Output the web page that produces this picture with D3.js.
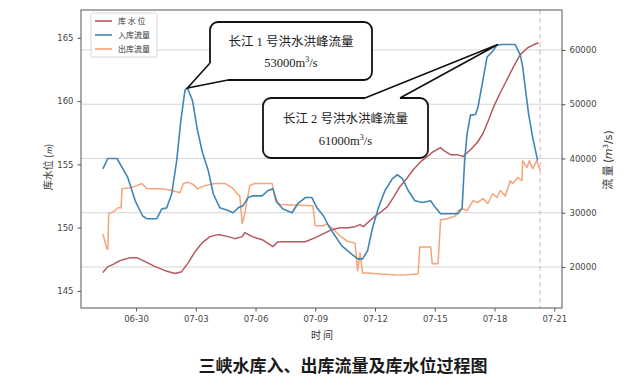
<!DOCTYPE html>
<html><head><meta charset="utf-8">
<script src="https://cdn.jsdelivr.net/npm/d3@7"></script>
<style>body{margin:0;background:#fff}</style>
</head><body><svg id="c" width="640" height="380"></svg>
<script>
const YEAR = "2020";
const seriesNames = ["库 水 位", "入库流量", "出库流量"];
const levelTimes = ["06-28 08:00","06-28 14:00","06-28 20:00","06-29 02:00","06-29 08:00","06-29 17:00","06-30 01:00","06-30 11:00","06-30 23:00","07-01 11:00","07-01 23:00","07-02 07:00","07-02 15:00","07-02 23:00","07-03 08:00","07-03 17:00","07-04 03:00","07-04 15:00","07-04 23:00","07-05 08:00","07-05 11:00","07-05 20:00","07-06 08:00","07-06 21:00","07-07 03:00","07-07 20:00","07-08 12:00","07-09 00:00","07-09 10:00","07-09 20:00","07-10 06:00","07-10 16:00","07-11 00:00","07-11 06:00","07-11 10:00","07-11 15:00","07-11 22:00","07-12 06:00","07-12 15:00","07-12 22:00","07-13 06:00","07-13 15:00","07-13 22:00","07-14 07:00","07-14 15:00","07-14 22:00","07-15 07:00","07-15 11:00","07-15 19:00","07-16 03:00","07-16 10:00","07-16 19:00","07-17 03:00","07-17 10:00","07-17 17:00","07-17 23:00","07-18 07:00","07-18 15:00","07-18 23:00","07-19 07:00","07-19 16:00","07-19 23:00","07-20 05:00"];
const levelValues = [146.45,146.92,147.08,147.31,147.47,147.63,147.63,147.31,146.92,146.60,146.37,146.52,147.24,148.10,148.82,149.29,149.45,149.29,149.13,149.29,149.61,149.29,149.05,148.50,148.89,148.89,148.89,149.21,149.53,149.84,150.00,150.00,150.08,150.24,150.08,150.39,150.79,151.18,151.66,152.37,153.24,153.95,154.58,155.21,155.61,156.00,156.32,156.08,155.77,155.77,155.61,156.16,156.71,157.42,158.53,159.56,160.66,161.69,162.72,163.67,164.22,164.45,164.61];
const inflowTimes = ["06-28 08:00","06-28 14:00","06-29 01:00","06-29 14:00","06-29 23:00","06-30 08:00","06-30 13:00","07-01 01:00","07-01 07:00","07-01 13:00","07-01 19:00","07-02 01:00","07-02 06:00","07-02 11:00","07-02 14:00","07-02 20:00","07-03 02:00","07-03 08:00","07-03 15:00","07-03 21:00","07-04 05:00","07-04 15:00","07-04 21:00","07-05 03:00","07-05 09:00","07-05 15:00","07-05 20:00","07-06 08:00","07-06 15:00","07-06 21:00","07-07 02:00","07-07 09:00","07-07 20:00","07-08 03:00","07-08 12:00","07-08 20:00","07-09 02:00","07-09 10:00","07-09 16:00","07-10 00:00","07-10 08:00","07-10 18:00","07-11 03:00","07-11 09:00","07-11 15:00","07-11 21:00","07-12 04:00","07-12 12:00","07-12 21:00","07-13 03:00","07-13 09:00","07-13 16:00","07-14 00:00","07-14 09:00","07-14 19:00","07-15 01:00","07-15 07:00","07-16 04:00","07-16 09:00","07-16 12:00","07-16 15:00","07-16 19:00","07-17 01:00","07-17 04:00","07-17 10:00","07-17 15:00","07-17 21:00","07-18 03:00","07-18 09:00","07-19 01:00","07-19 07:00","07-19 10:00","07-19 13:00","07-19 17:00","07-19 22:00","07-20 04:00"];
const inflowValues = [38100,40000,40000,36500,32200,29400,28900,28900,30700,30900,33500,39600,47000,52600,53000,50700,45200,41100,37800,33500,30900,30400,30000,30900,31300,32800,33100,33100,34100,34400,31900,30700,30000,31700,32800,32800,30900,29400,27600,25700,23900,22600,21500,21500,23000,27200,30900,34100,36300,37000,36300,34100,32200,31900,32200,30900,29800,29800,30900,39600,44600,48000,48100,49400,54400,58700,59600,60900,61000,61000,59100,56900,53100,48300,43900,39600];
const outflowTimes = ["06-28 08:00","06-28 13:00","06-28 14:00","06-28 15:00","06-28 23:00","06-29 02:00","06-29 06:00","06-29 07:00","06-29 17:00","06-30 01:00","06-30 07:00","06-30 13:00","07-01 07:00","07-01 19:00","07-02 05:00","07-02 09:00","07-02 15:00","07-02 21:00","07-03 02:00","07-03 11:00","07-03 23:00","07-04 11:00","07-04 20:00","07-05 02:00","07-05 05:00","07-05 08:00","07-05 11:00","07-05 17:00","07-05 23:00","07-06 20:00","07-07 00:00","07-07 06:00","07-08 21:00","07-09 00:00","07-09 10:00","07-09 14:00","07-09 22:00","07-10 06:00","07-10 14:00","07-11 00:00","07-11 03:00","07-11 06:00","07-11 09:00","07-11 15:00","07-12 06:00","07-13 06:00","07-14 04:00","07-14 06:00","07-14 19:00","07-14 21:00","07-15 04:00","07-15 07:00","07-15 15:00","07-16 01:00","07-16 04:00","07-16 10:00","07-16 15:00","07-16 22:00","07-17 04:00","07-17 10:00","07-17 16:00","07-17 22:00","07-18 03:00","07-18 07:00","07-18 13:00","07-18 19:00","07-18 22:00","07-19 04:00","07-19 09:00","07-19 10:00","07-19 15:00","07-19 18:00","07-19 22:00","07-20 03:00","07-20 07:00"];
const outflowValues = [26100,23300,23300,29800,30400,30900,30900,34400,34600,35000,35400,34400,34400,34100,33700,35400,35600,35200,34400,35000,35400,35400,34600,33500,33100,28000,29800,35000,35400,35400,32200,31500,31300,27600,27600,28000,26900,25700,24800,24400,19300,22600,18900,18900,18700,18500,18700,23700,23700,20600,20600,28700,28900,29400,30400,30700,30400,32200,31900,32600,31700,33500,32800,34100,33100,35900,35400,36500,35900,39600,38300,39600,38100,39600,37800];
const xTickLabels = ["06-30","07-03","07-06","07-09","07-12","07-15","07-18","07-21"];
const levelTicks = [145,150,155,160,165];
const flowTicks = [20000,30000,40000,50000,60000];
const levelDomain = [143.65, 167.2];
const flowDomain = [12440, 67370];
const markerTime = "07-20 07:00";
const callouts = [
  {lines:["长江 1 号洪水洪峰流量","53000"], time:"07-02 14:00", value:53000},
  {lines:["长江 2 号洪水洪峰流量","61000"], time:"07-18 04:00", value:61000}
];
const titleText = "三峡水库入、出库流量及库水位过程图";
const xLabel = "时 间";

const colors = {level:"#b4595e", inflow:"#3f86b5", outflow:"#f4a476"};
const parse = d3.timeParse("%Y-%m-%d %H:%M");
const P = s => parse(YEAR + "-" + s);
const zip = (t, v) => t.slice(0, Math.min(t.length, v.length)).map((s,i)=>({t:P(s), v:v[i]}));
const level = zip(levelTimes, levelValues), inflow = zip(inflowTimes, inflowValues), outflow = zip(outflowTimes, outflowValues);

const M = {l:81, r:562, t:10, b:308};
const svg = d3.select("#c");
const ext = d3.extent([...level, ...inflow, ...outflow], d => d.t);
const span = ext[1] - ext[0];
const x = d3.scaleTime().domain([new Date(+ext[0] - span*0.05), new Date(+ext[1] + span*0.05)]).range([M.l, M.r]);
const yL = d3.scaleLinear().domain(levelDomain).range([M.b, M.t]);
const yR = d3.scaleLinear().domain(flowDomain).range([M.b, M.t]);

const tickFont = "'DejaVu Sans', sans-serif";
// grid from right axis
svg.append("g").selectAll("line").data(flowTicks).join("line")
  .attr("x1", M.l).attr("x2", M.r).attr("y1", d=>yR(d)).attr("y2", d=>yR(d))
  .attr("stroke", "#d4d4d4").attr("stroke-width", 1);
// marker dashed line
svg.append("line").attr("x1", x(P(markerTime))).attr("x2", x(P(markerTime)))
  .attr("y1", M.t).attr("y2", M.b).attr("stroke", "#d8b4ba").attr("stroke-width", 1).attr("stroke-dasharray", "5,3");

const lineGen = y => d3.line().x(d=>x(d.t)).y(d=>y(d.v));
const plot = svg.append("g");
plot.append("path").datum(outflow).attr("d", lineGen(yR)).attr("fill","none").attr("stroke", colors.outflow).attr("stroke-width",1.5).attr("stroke-linejoin","round");
plot.append("path").datum(level).attr("d", lineGen(yL)).attr("fill","none").attr("stroke", colors.level).attr("stroke-width",1.5).attr("stroke-linejoin","round");
plot.append("path").datum(inflow).attr("d", lineGen(yR)).attr("fill","none").attr("stroke", colors.inflow).attr("stroke-width",1.6).attr("stroke-linejoin","round");

// frame
svg.append("rect").attr("x", M.l).attr("y", M.t).attr("width", M.r-M.l).attr("height", M.b-M.t)
  .attr("fill","none").attr("stroke","#555").attr("stroke-width",1);

function styleAxis(g){
  g.select(".domain").remove();
  g.selectAll(".tick line").attr("stroke","#555");
  g.selectAll(".tick text").attr("fill","#444").attr("font-family", tickFont).attr("font-size", 8.5);
}
const xTickDates = xTickLabels.map(s => P(s + " 00:00"));
svg.append("g").attr("transform", `translate(0,${M.b})`)
  .call(d3.axisBottom(x).tickValues(xTickDates).tickFormat((d,i)=>xTickLabels[i]).tickSize(3.5).tickPadding(4))
  .call(styleAxis);
svg.append("g").attr("transform", `translate(${M.l},0)`)
  .call(d3.axisLeft(yL).tickValues(levelTicks).tickFormat(d3.format("d")).tickSize(3.5).tickPadding(4))
  .call(styleAxis);
svg.append("g").attr("transform", `translate(${M.r},0)`)
  .call(d3.axisRight(yR).tickValues(flowTicks).tickFormat(d3.format("d")).tickSize(3.5).tickPadding(4))
  .call(styleAxis);

const cjk = "'Noto Sans CJK SC', sans-serif";
// axis labels
svg.append("text").attr("x", 322).attr("y", 339).attr("text-anchor","middle")
  .attr("font-family", cjk).attr("font-size", 10).attr("fill","#333").text(xLabel);
svg.append("text").attr("transform","translate(52,167) rotate(-90)").attr("text-anchor","middle")
  .attr("font-family", cjk).attr("font-size", 10).attr("fill","#333")
  .call(t=>{ t.append("tspan").text("库水位 ("); t.append("tspan").attr("font-style","italic").attr("font-size",8).text("m"); t.append("tspan").text(")"); });
svg.append("text").attr("transform","translate(612,160) rotate(-90)").attr("text-anchor","middle")
  .attr("font-family", cjk).attr("font-size", 11).attr("fill","#333")
  .call(t=>{ t.append("tspan").text("流 量 (");
    t.append("tspan").attr("font-style","italic").attr("font-family","'DejaVu Sans', sans-serif").text("m");
    t.append("tspan").attr("dy",-4).attr("font-size",7).attr("font-family","'DejaVu Sans', sans-serif").text("3");
    t.append("tspan").attr("dy",4).attr("font-family","'DejaVu Sans', sans-serif").text("/s)"); });

// legend
const lg = svg.append("g");
lg.append("rect").attr("x", 91).attr("y", 13).attr("width", 66).attr("height", 44).attr("rx", 2)
  .attr("fill","#fff").attr("fill-opacity",0.85).attr("stroke","#d8d8d8");
[colors.level, colors.inflow, colors.outflow].forEach((c,i)=>{
  const yy = 21 + i*14;
  lg.append("line").attr("x1",95).attr("x2",112).attr("y1",yy).attr("y2",yy).attr("stroke",c).attr("stroke-width",1.6);
  lg.append("text").attr("x",118).attr("y",yy+3).attr("font-family",cjk).attr("font-size",8).attr("fill","#333").text(seriesNames[i]);
});

// callouts
const boxes = [
  {x:210, y:22, w:162, h:58, b1:[210,63], b2:[228,80], inner:[[213,63],[213,77],[228,77]]},
  {x:263, y:98, w:165, h:60, b1:[365,98], b2:[400,98], inner:[[365,101],[400,101]]}
];
const serif = "'Liberation Serif', 'Noto Sans CJK SC', serif";
callouts.forEach((c,i)=>{
  const b = boxes[i];
  const tip = [x(P(c.time)), yR(c.value)];
  const g = svg.append("g");
  g.append("rect").attr("x",b.x).attr("y",b.y).attr("width",b.w).attr("height",b.h).attr("rx",8)
    .attr("fill","#fff").attr("stroke","#111").attr("stroke-width",1.8);
  g.append("polygon").attr("points", [tip, b.b1, ...b.inner, b.b2].map(p=>p.join(",")).join(" "))
    .attr("fill","#fff").attr("stroke","none");
  g.append("polyline").attr("points", [b.b1, tip, b.b2].map(p=>p.join(",")).join(" "))
    .attr("fill","none").attr("stroke","#111").attr("stroke-width",1.6).attr("stroke-linejoin","miter");
  const cx = b.x + b.w/2;
  g.append("text").attr("x",cx).attr("y",b.y+b.h*0.42).attr("text-anchor","middle")
    .attr("font-family",serif).attr("font-size",12.5).attr("fill","#222").text(c.lines[0]);
  g.append("text").attr("x",cx).attr("y",b.y+b.h*0.78).attr("text-anchor","middle")
    .attr("font-family",serif).attr("font-size",12.5).attr("fill","#222")
    .call(t=>{ t.append("tspan").text(c.lines[1] + "m");
      t.append("tspan").attr("dy",-5).attr("font-size",8).text("3");
      t.append("tspan").attr("dy",5).text("/s"); });
});

// title
svg.append("text").attr("x",343).attr("y",372).attr("text-anchor","middle")
  .attr("font-family",cjk).attr("font-weight","bold").attr("font-size",17).attr("fill","#1a1a1a").text(titleText);
</script></body></html>
